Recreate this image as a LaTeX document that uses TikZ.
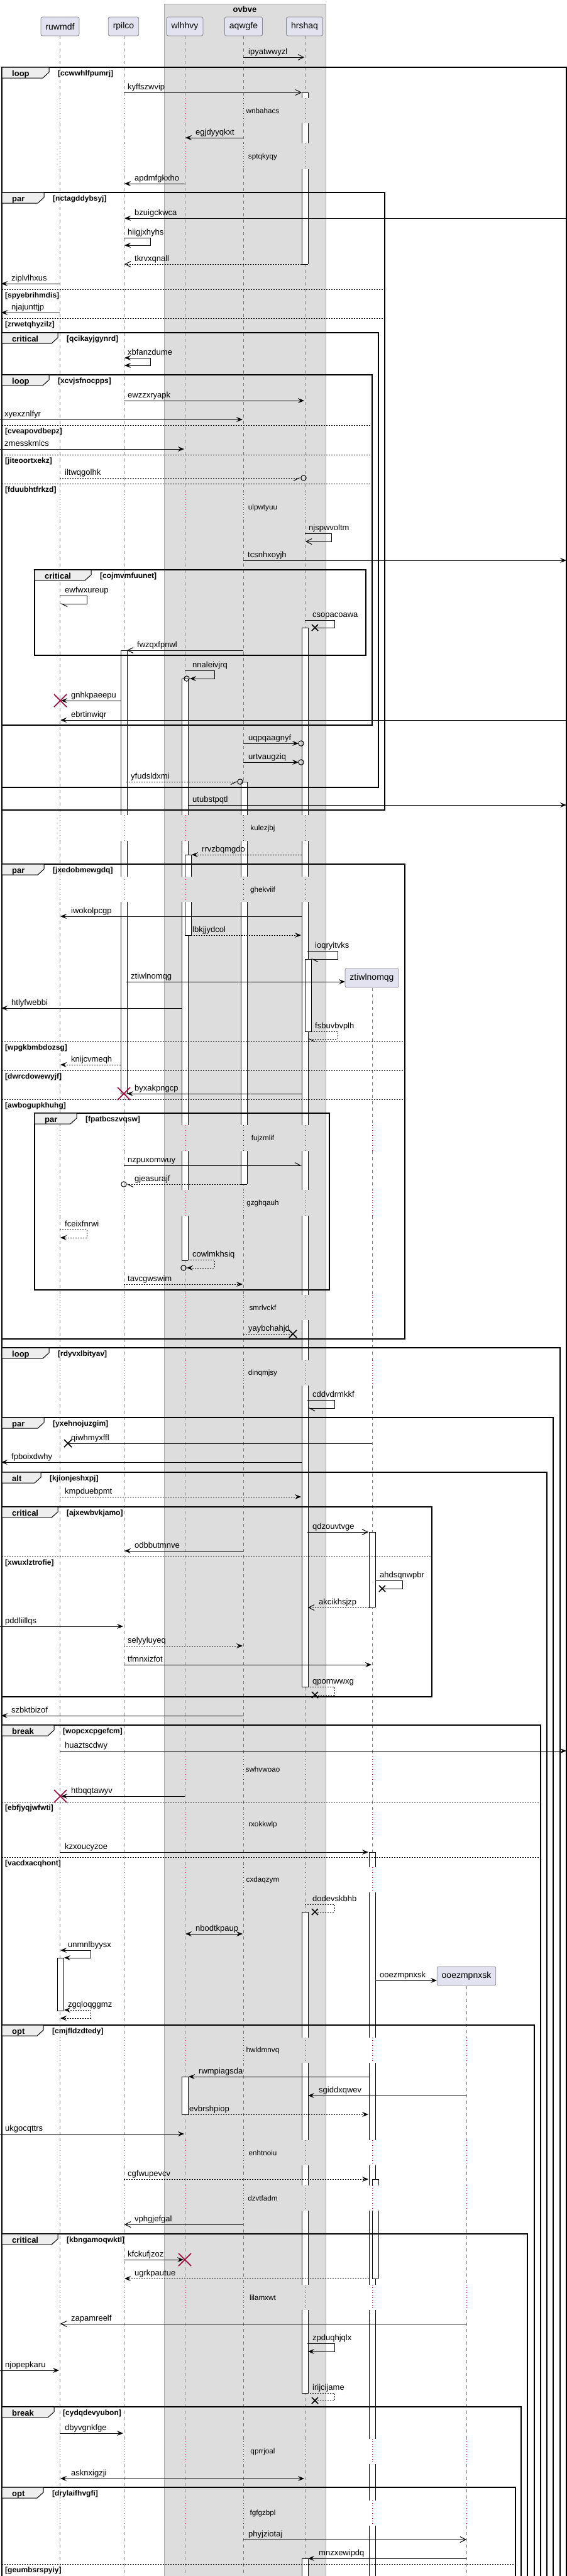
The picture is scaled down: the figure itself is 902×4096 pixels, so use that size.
\documentclass[tikz,border=0pt]{standalone}
\usepackage{fontspec}
\setmainfont{Liberation Sans}
\usetikzlibrary{arrows.meta}
\definecolor{pfill}{HTML}{E2E2F0}
\definecolor{pline}{HTML}{8A8A8A}
\definecolor{gfill}{HTML}{DDDDDD}
\definecolor{gline}{HTML}{A8A8A8}
\definecolor{tfill}{HTML}{EEEEEE}
\definecolor{dred}{HTML}{A80036}
\definecolor{llc}{HTML}{7A7A7A}
\newcommand\sqfs[1]{\fontsize{#1pt}{#1pt}\selectfont}
\tikzset{
 m/.style={line width=1pt, draw=black},
 dsh/.style={dash pattern=on 2pt off 2pt},
 fa/.style={-{Stealth[length=10pt,width=8pt,inset=4pt]}},
 fab/.style={{Stealth[length=10pt,width=8pt,inset=4pt]}-{Stealth[length=10pt,width=8pt,inset=4pt]}},
 oa/.style={-{Straight Barb[length=9pt,width=9pt]}},
 hl/.style={-{Straight Barb[length=9pt,width=9pt,left]}},
 hr/.style={-{Straight Barb[length=9pt,width=9pt,right]}},
 frm/.style={line width=1.5pt, draw=black},
 tabs/.style={fill=tfill, draw=black, line width=1pt},
 kw/.style={anchor=base west, inner sep=0pt, font=\sqfs{13}\bfseries},
 cnd/.style={anchor=base west, inner sep=0pt, font=\sqfs{12}\bfseries},
 lbl/.style={anchor=base west, inner sep=0pt, font=\sqfs{13}},
 dlt/.style={inner sep=0pt, font=\sqfs{11.7}},
 part/.style={draw=pline, fill=pfill, rounded corners=2.5pt, line width=0.8pt, minimum height=30pt, inner xsep=7.5pt, font=\sqfs{14}},
 ll/.style={draw=llc, line width=0.6pt, dash pattern=on 5pt off 5pt},
 dl/.style={draw=dred, line width=0.8pt, dash pattern=on 1pt off 3pt},
 actl/.style={draw=black, line width=0.8pt},
 dvl/.style={draw=black, line width=1pt, dash pattern=on 2pt off 2pt},
 xm/.style={draw=black, line width=1.5pt},
 rx/.style={draw=dred, line width=1.6pt},
}
\newcommand\sqmsg[7]{%
 \coordinate (#1-a) at (#3,#5);
 \coordinate (#1-b) at (#4,#5);
 \draw[m,#2] (#1-a) -- (#1-b);
 \node[lbl] (#1-t) at (#7,#5-5) {#6};}
\newcommand\sqself[9]{%
 \coordinate (#1-a) at (#3,#5);
 \coordinate (#1-b) at (#4,#6);
 \draw[m,#2] (#1-a) -| (#7,#6) -- (#1-b);
 \node[lbl] (#1-t) at (#9,#5-5) {#8};}
\newcommand\sqgrp[8]{%
 \draw[frm] (#2,#3) rectangle (#4,#5);
 \draw[tabs] (#2,#3) -- (#7,#3) -- (#7,#3+8) -- (#7-10,#3+17) -- (#2,#3+17) -- cycle;
 \node[kw] (#1-k) at (#2+16,#3+14) {#6};
 \node[cnd] (#1-c) at (#7+14,#3+13) {[#8]};}
\newcommand\sqdiv[5]{%
 \draw[dvl] (#2,#4) -- (#3,#4);
 \node[cnd] (#1) at (#2+5,#4+13) {[#5]};}
\newcommand\sqdelay[3]{\node[dlt] (#1) at (418,#3) {#2};}
\newcommand\sqx[4]{\draw[#4] (#1-#3,#2-#3) -- (#1+#3,#2+#3) (#1-#3,#2+#3) -- (#1+#3,#2-#3);}
\newcommand\sqcirc[2]{\draw[m] (#1,#2) circle (4.2);}
\begin{document}
\begin{tikzpicture}[x=1pt,y=-1pt]
\useasboundingbox (0,0) rectangle (902,4096);
\fill[white] (0,0) rectangle (902,4096);
% group box
\draw[fill=gfill, draw=gline, line width=0.8pt] (261,6) rectangle (518,4110);
\node[font=\sqfs{13}\bfseries, inner sep=0pt] (ovbve) at (389.5,15) {ovbve};
% lifelines
\foreach \a/\b in {57/156,196/228,269/782,826/1296,1337/1394,1434/1789,1830/1892,1933/2059,2099/2163,2203/2793,2833/2881,2921/2969,3009/3240,3280/3403,3443/3475,3515/3633,3673/3878,3918/3976,4016/4110}
 {\foreach \x in {95,197,294,387,485}{\draw[ll] (\x,\a) -- (\x,\b);}}
\foreach \a/\b in {156/196,228/269,782/826,1296/1337,1394/1434,1789/1830,1892/1933,2059/2099,2163/2203,2793/2833,2881/2921,2969/3009,3240/3280,3403/3443,3475/3515,3633/3673,3878/3918,3976/4016}
 {\foreach \x in {95,197,294,387,485}{\draw[dl] (\x,\a) -- (\x,\b);}}
\foreach \a/\b in {1571/1789,1830/1892,1933/2059,2099/2163,2203/2793,2833/2881,2921/2969,3009/3240,3280/3403,3443/3475,3515/3633,3673/3878,3918/3976,4016/4110}
 {\draw[ll] (592,\a) -- (592,\b);}
\foreach \a/\b in {1789/1830,1892/1933,2059/2099,2163/2203,2793/2833,2881/2921,2969/3009,3240/3280,3403/3443,3475/3515,3633/3673,3878/3918,3976/4016}
 {\draw[dl] (592,\a) -- (592,\b);}
\foreach \a/\b in {3158/3240,3280/3403,3443/3475,3515/3633,3673/3878,3918/3976,4016/4110}
 {\draw[ll] (742,\a) -- (742,\b);}
\foreach \a/\b in {3240/3280,3403/3443,3475/3515,3633/3673,3878/3918,3976/4016}
 {\draw[dl] (742,\a) -- (742,\b);}
% participants
\node[part] (ruwmdf) at (95.5,42) {ruwmdf};
\node[part] (rpilco) at (196.5,42) {rpilco};
\node[part] (wlhhvy) at (294,42) {wlhhvy};
\node[part] (aqwgfe) at (387.5,42) {aqwgfe};
\node[part] (hrshaq) at (484.5,42) {hrshaq};
\node[part] (ztiwlnomqg) at (591.5,1555) {ztiwlnomqg};
\node[part] (ooezmpnxsk) at (742,3142) {ooezmpnxsk};
% activations: centre / top / bottom / top cap / bottom cap
\foreach \c/\a/\b/\t/\u in {485/147/156/1/0, 485/196/228/0/0, 485/269/420/0/1, 485/998/1296/1/0, 485/1337/1394/0/0, 485/1434/1789/0/0, 485/1830/1892/0/0, 485/1933/2059/0/0, 485/2099/2163/0/0, 485/2203/2682/0/1, 485/3040/3240/1/0, 485/3280/3403/0/0, 485/3443/3475/0/0, 485/3515/3633/0/0, 485/3673/3805/0/1, 485/4068/4110/1/0, 490/1525/1640/1/1, 197/1034/1296/1/0, 197/1337/1394/0/0, 197/1434/1739/0/1, 294/1079/1296/1/0, 294/1337/1394/0/0, 294/1434/1789/0/0, 294/1830/1892/0/0, 294/1933/2004/0/1, 299/1359/1394/1/0, 299/1434/1487/0/1, 294/3302/3362/1/1, 388/1243/1296/1/0, 388/1337/1394/0/0, 388/1434/1789/0/0, 388/1830/1883/0/1, 592/2436/2556/1/1, 592/2945/2969/1/0, 592/3009/3240/0/0, 592/3280/3403/0/0, 592/3443/3475/0/0, 592/3515/3633/0/0, 592/3673/3878/0/0, 592/3918/3976/0/0, 592/4016/4110/0/0, 597/3465/3475/1/0, 597/3515/3623/0/1, 96/3113/3197/1/1}
 {\fill[white] (\c-5,\a) rectangle (\c+5,\b);
  \draw[actl] (\c-5,\a) -- (\c-5,\b) (\c+5,\a) -- (\c+5,\b);
  \ifnum\t=1 \draw[actl] (\c-5,\a) -- (\c+5,\a);\fi
  \ifnum\u=1 \draw[actl] (\c-5,\b) -- (\c+5,\b);\fi}
% frames
\sqgrp{f1}{3}{107}{901}{4110}{loop}{78}{ccwwhlfpumrj}
\sqgrp{f2}{3}{306}{612}{1288}{par}{70}{nctagddybsyj}
\sqdiv{d1}{3}{612}{460}{spyebrihmdis}
\sqdiv{d2}{3}{612}{506}{zrwetqhyzilz}
\sqgrp{f3}{3}{529}{602}{1252}{critical}{92}{qcikayjgynrd}
\sqgrp{f4}{3}{596}{592}{1153}{loop}{78}{xcvjsfnocpps}
\sqdiv{d3}{3}{592}{676}{cveapovdbepz}
\sqdiv{d4}{3}{592}{723}{jiteoortxekz}
\sqdiv{d5}{3}{592}{769}{fduubhtfrkzd}
\sqgrp{f5}{55}{906}{582}{1042}{critical}{145}{cojmvmfuunet}
\sqgrp{f6}{3}{1374}{644}{2129}{par}{70}{jxedobmewgdq}
\sqdiv{d6}{3}{644}{1656}{wpgkbmbdozsg}
\sqdiv{d7}{3}{644}{1702}{dwrcdowewyjf}
\sqdiv{d8}{3}{644}{1748}{awbogupkhuhg}
\sqgrp{f7}{55}{1770}{524}{2051}{par}{122}{fpatbcszvqsw}
\sqgrp{f8}{3}{2143}{891}{4110}{loop}{78}{rdyvxlbityav}
\sqgrp{f9}{3}{2254}{880}{4110}{par}{70}{yxehnojuzgim}
\sqgrp{f10}{3}{2341}{870}{4110}{alt}{65}{kjionjeshxpj}
\sqgrp{f11}{3}{2396}{687}{2698}{critical}{92}{ajxewbvkjamo}
\sqdiv{d9}{3}{687}{2475}{xwuxlztrofie}
\sqgrp{f12}{3}{2743}{860}{4110}{break}{86}{wopcxcpgefcm}
\sqdiv{d10}{3}{860}{2865}{ebfjyqjwfwti}
\sqdiv{d11}{3}{860}{2953}{vacdxacqhont}
\sqgrp{f13}{3}{3220}{850}{4110}{opt}{69}{cmjfldzdtedy}
\sqgrp{f14}{3}{3552}{839}{4110}{critical}{92}{kbngamoqwktl}
\sqgrp{f15}{3}{3827}{829}{4110}{break}{86}{cydqdevyubon}
\sqgrp{f16}{3}{3955}{820}{4110}{opt}{69}{drylaifhvgfi}
\sqdiv{d12}{3}{820}{4077}{geumbsrspyiy}
% delays
\sqdelay{y1}{wnbahacs}{176}
\sqdelay{y2}{sptqkyqy}{249}
\sqdelay{y3}{ulpwtyuu}{807}
\sqdelay{y4}{kulezjbj}{1317}
\sqdelay{y5}{ghekviif}{1415}
\sqdelay{y6}{fujzmlif}{1810}
\sqdelay{y7}{gzghqauh}{1913}
\sqdelay{y8}{smrlvckf}{2079}
\sqdelay{y9}{dinqmjsy}{2183}
\sqdelay{y10}{swhvwoao}{2813}
\sqdelay{y11}{rxokkwlp}{2901}
\sqdelay{y12}{cxdaqzym}{2989}
\sqdelay{y13}{hwldmnvq}{3260}
\sqdelay{y14}{enhtnoiu}{3423}
\sqdelay{y15}{dzvtfadm}{3495}
\sqdelay{y16}{lilamxwt}{3653}
\sqdelay{y17}{qprrjoal}{3898}
\sqdelay{y18}{fgfgzbpl}{3996}
% messages
\sqmsg{m1}{oa}{387}{484}{91}{ipyatwwyzl}{395}
\sqmsg{m2}{oa}{197}{480}{147}{kyffszwvip}{203}
\sqmsg{m3}{fa}{387}{295}{219}{egjdyyqkxt}{311}
\sqmsg{m4}{fa}{294}{198}{292}{apdmfgkxho}{214}
\sqmsg{m5}{fa}{902}{198}{347}{bzuigckwca}{214}
\sqself{m6}{fa}{197}{198}{378}{390}{239}{hiigjxhyhs}{203}
\sqmsg{m7}{oa,dsh}{480}{198}{420}{tkrvxqnall}{214}
\sqmsg{m8}{fa}{95}{2}{451}{ziplvlhxus}{18}
\sqmsg{m9}{fa}{95}{2}{497}{njajunttjp}{18}
\sqself{m10}{fab}{198}{198}{569}{581}{239}{xbfanzdume}{203}
\sqmsg{m11}{fa}{197}{484}{637}{ewzzxryapk}{203}
\sqmsg{m12}{fa}{0}{386}{667}{xyexznlfyr}{7}
\sqmsg{m13}{fa}{0}{293}{714}{zmesskmlcs}{7}
\sqmsg{m14}{hr,dsh}{95}{478}{760}{iltwqgolhk}{103}
\sqcirc{483}{760}
\sqself{m15}{oa}{485}{486}{848}{861}{527}{njspwvoltm}{491}
\sqmsg{m16}{fa}{387}{901}{891}{tcsnhxoyjh}{394}
\sqself{m17}{hl}{95}{96}{947}{960}{138}{ewfwxureup}{103}
\sqself{m18}{}{485}{501}{986}{998}{532}{csopacoawa}{497}
\sqx{501}{998}{5}{xm}
\sqmsg{m19}{oa}{387}{202}{1034}{fwzqxfpnwl}{218}
\sqself{m20}{fa}{294}{302}{1066}{1079}{341}{nnaleivjrq}{306}
\sqcirc{297}{1079}
\sqmsg{m21}{fa}{192}{97}{1114}{gnhkpaeepu}{113}
\sqx{96}{1114}{10}{rx}
\sqmsg{m22}{fa}{902}{96}{1145}{ebrtinwiqr}{113}
\sqmsg{m23}{fa}{387}{475}{1182}{uqpqaagnyf}{395}
\sqcirc{479}{1182}
\sqmsg{m24}{fa}{387}{475}{1212}{urtvaugziq}{395}
\sqcirc{479}{1212}
\sqmsg{m25}{hr,dsh}{201}{378}{1243}{yfudsldxmi}{208}
\sqcirc{382}{1243}
\sqmsg{m26}{fa}{299}{901}{1280}{utubstpqtl}{306}
\sqmsg{m27}{fa,dsh}{480}{305}{1359}{rrvzbqmgdo}{321}
\sqmsg{m28}{fa}{480}{96}{1457}{iwokolpcgp}{113}
\sqmsg{m29}{fa,dsh}{304}{479}{1487}{lbkjjydcol}{306}
\sqself{m30}{hl}{489}{495}{1512}{1525}{537}{ioqryitvks}{501}
\sqmsg{m31}{fa}{201}{549}{1561}{ztiwlnomqg}{208}
\sqmsg{m32}{fa}{289}{2}{1603}{htlyfwebbi}{18}
\sqself{m33}{hl,dsh}{495}{490}{1640}{1652}{537}{fsbuvbvplh}{501}
\sqmsg{m34}{fa,dsh}{192}{96}{1693}{knijcvmeqh}{113}
\sqmsg{m35}{fa}{480}{202}{1739}{byxakpngcp}{214}
\sqx{197}{1739}{10}{rx}
\sqmsg{m36}{hl}{197}{480}{1853}{nzpuxomwuy}{203}
\sqmsg{m37}{hl,dsh}{383}{201}{1883}{gjeasurajf}{214}
\sqcirc{197}{1883}
\sqself{m38}{fa,dsh}{95}{96}{1955}{1968}{138}{fceixfnrwi}{103}
\sqself{m39}{fa,dsh}{299}{297}{2003}{2016}{341}{cowlmkhsiq}{306}
\sqcirc{292}{2016}
\sqmsg{m40}{fa,dsh}{197}{386}{2042}{tavcgwswim}{203}
\sqmsg{m41}{dsh}{387}{466}{2121}{yaybchahjd}{395}
\sqx{466}{2121}{6}{xm}
\sqself{m42}{hl}{489}{490}{2226}{2239}{532}{cddvdrmkkf}{497}
\sqmsg{m43}{}{592}{108}{2295}{qiwhmyxffl}{113}
\sqx{108}{2295}{6}{xm}
\sqmsg{m44}{fa}{480}{2}{2325}{fpboixdwhy}{18}
\sqmsg{m45}{fa,dsh}{95}{479}{2380}{kmpduebpmt}{103}
\sqmsg{m46}{oa}{489}{586}{2436}{qdzouvtvge}{497}
\sqmsg{m47}{fa}{387}{198}{2466}{odbbutmnve}{214}
\sqself{m48}{}{597}{608}{2513}{2526}{640}{ahdsqnwpbr}{604}
\sqx{608}{2526}{5}{xm}
\sqmsg{m49}{oa,dsh}{587}{490}{2556}{akcikhsjzp}{507}
\sqmsg{m50}{fa}{0}{196}{2586}{pddliillqs}{8}
\sqmsg{m51}{fa,dsh}{197}{386}{2617}{selyyluyeq}{203}
\sqmsg{m52}{fa}{197}{591}{2647}{tfmnxizfot}{203}
\sqself{m53}{dsh}{489}{501}{2682}{2695}{532}{qpornwwxg}{497}
\sqx{501}{2695}{5}{xm}
\sqmsg{m54}{fa}{387}{2}{2728}{szbktbizof}{18}
\sqmsg{m55}{fa}{95}{901}{2784}{huaztscdwy}{103}
\sqmsg{m56}{fa}{294}{97}{2856}{htbqqtawyv}{113}
\sqx{96}{2856}{10}{rx}
\sqmsg{m57}{fa}{95}{586}{2945}{kzxoucyzoe}{103}
\sqself{m58}{dsh}{485}{501}{3028}{3040}{532}{dodevskbhb}{497}
\sqx{501}{3040}{5}{xm}
\sqmsg{m59}{fab}{295}{386}{3075}{nbodtkpaup}{311}
\sqself{m60}{fab}{96}{102}{3101}{3113}{144}{unmnlbyysx}{108}
\sqmsg{m61}{fa}{597}{695}{3149}{ooezmpnxsk}{604}
\sqself{m62}{fab,dsh}{102}{96}{3196}{3209}{144}{zgqloqggmz}{108}
\sqmsg{m63}{fa}{587}{300}{3302}{rwmpiagsda}{316}
\sqmsg{m64}{fa}{742}{490}{3332}{sgiddxqwev}{507}
\sqmsg{m65}{fa,dsh}{299}{586}{3362}{evbrshpiop}{301}
\sqmsg{m66}{fa}{0}{293}{3393}{ukgocqttrs}{8}
\sqmsg{m67}{fa,dsh}{197}{586}{3465}{cgfwupevcv}{203}
\sqmsg{m68}{oa}{387}{198}{3537}{vphgjefgal}{214}
\sqmsg{m69}{fa}{197}{292}{3593}{kfckufjzoz}{203}
\sqx{294}{3593}{10}{rx}
\sqmsg{m70}{fa,dsh}{587}{198}{3623}{ugrkpautue}{214}
\sqmsg{m71}{oa}{742}{96}{3695}{zapamreelf}{113}
\sqself{m72}{fa}{489}{490}{3726}{3739}{532}{zpduqhjqlx}{497}
\sqmsg{m73}{fa}{0}{94}{3769}{njopepkaru}{8}
\sqself{m74}{dsh}{489}{501}{3805}{3817}{532}{irijcijame}{497}
\sqx{501}{3817}{5}{xm}
\sqmsg{m75}{fa}{95}{196}{3869}{dbyvgnkfge}{103}
\sqmsg{m76}{fab}{96}{484}{3941}{asknxigzji}{113}
\sqmsg{m77}{oa}{387}{742}{4038}{phyjziotaj}{395}
\sqmsg{m78}{fa}{742}{490}{4068}{mnzxewipdq}{507}
\end{tikzpicture}
\end{document}
